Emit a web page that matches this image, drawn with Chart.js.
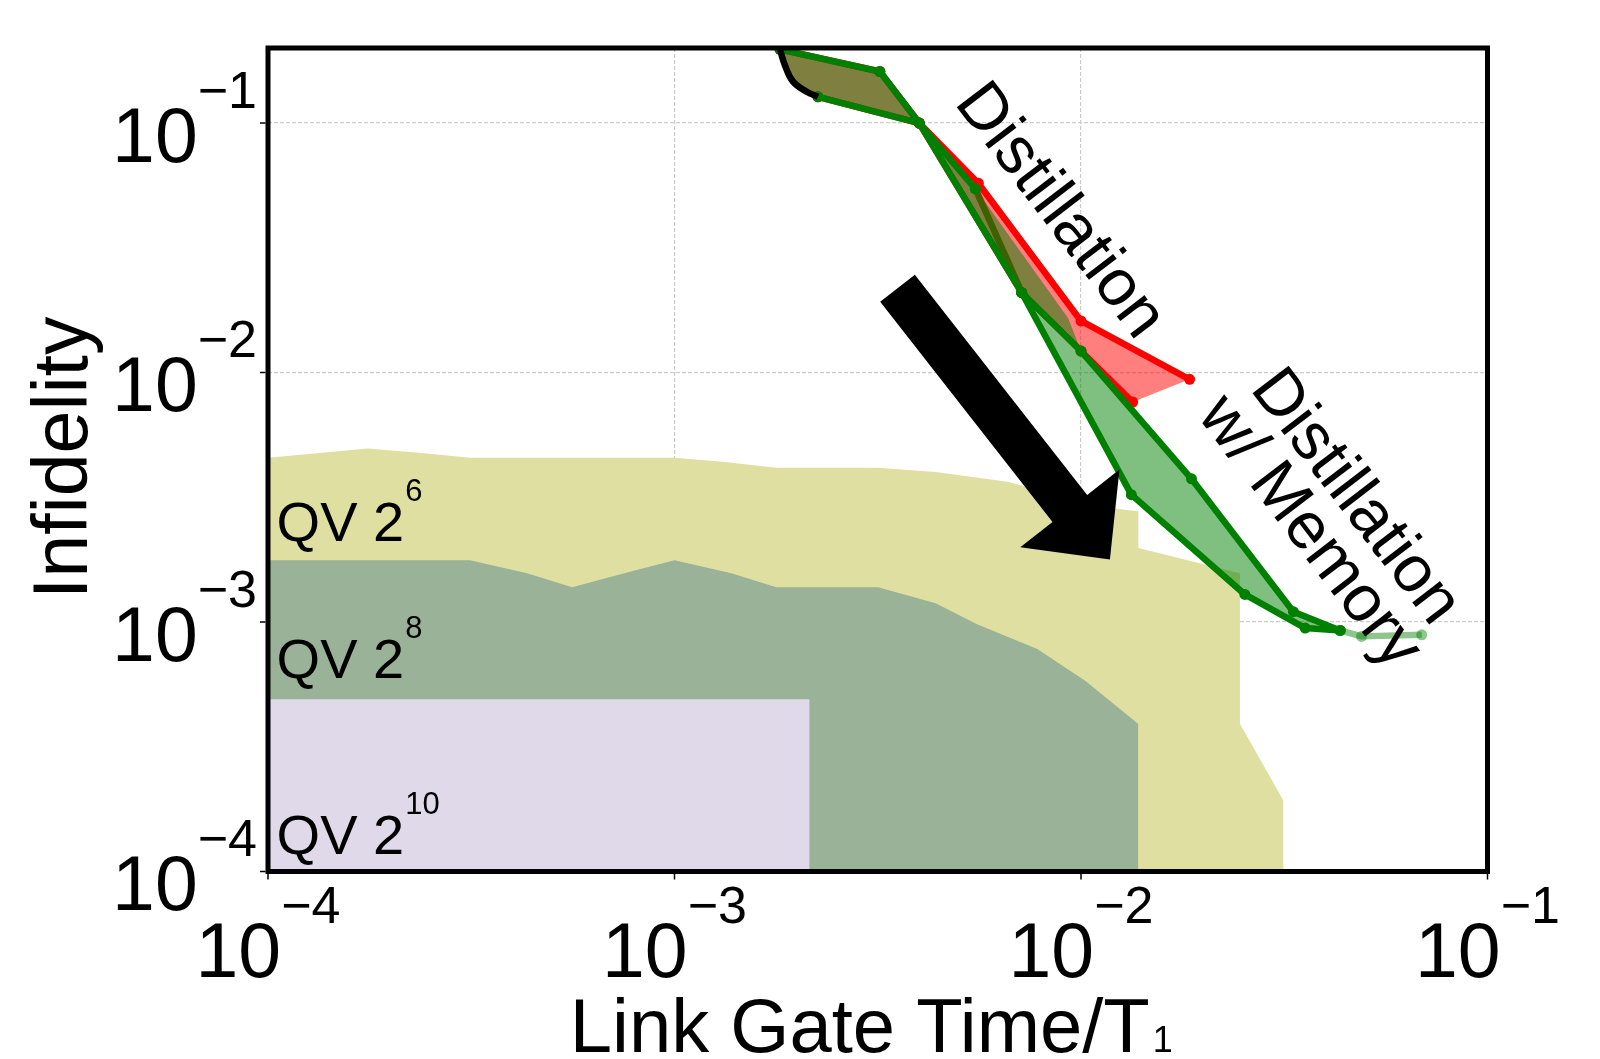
<!DOCTYPE html>
<html>
<head>
<meta charset="utf-8">
<title>Infidelity vs Link Gate Time</title>
<script src="https://cdn.jsdelivr.net/npm/chart.js@4.4.0/dist/chart.umd.min.js"></script>
<style>
  html, body { margin: 0; padding: 0; background: #fff; }
  #wrap { position: relative; width: 1600px; height: 1059px; }
</style>
</head>
<body>
<div id="wrap"><canvas id="qvChart"></canvas></div>
<script>
// axis ranges and decade ticks
const xRange = [1e-4, 1e-1];
const yRange = [1e-4, 0.2];
const xTicks = [1e-4, 1e-3, 1e-2, 1e-1];
const yTicks = [1e-4, 1e-3, 1e-2, 1e-1];
const xTickExp = ['\u22124', '\u22123', '\u22122', '\u22121'];
const yTickExp = ['\u22124', '\u22123', '\u22122', '\u22121'];

// quantum volume regions (upper boundary, filled down to the axis)
const qv6X = [1e-4, 0.000176, 0.000235, 0.000314, 0.001, 0.00133, 0.00178, 0.00317, 0.00439, 0.0066, 0.0111, 0.01384, 0.01384, 0.0246, 0.0246, 0.0315, 0.0315];
const qv6Y = [0.00456, 0.00496, 0.00477, 0.00456, 0.00456, 0.00438, 0.00415, 0.00415, 0.00399, 0.00365, 0.0029, 0.00278, 0.00198, 0.00157, 0.000391, 0.000192, 1e-4];
const qv8X = [1e-4, 0.000314, 0.000434, 0.00056, 0.000789, 0.001, 0.00138, 0.00178, 0.00317, 0.00439, 0.00555, 0.00781, 0.01026, 0.01384, 0.01384];
const qv8Y = [0.00177, 0.00177, 0.00157, 0.00138, 0.0016, 0.00177, 0.00157, 0.00138, 0.00138, 0.00119, 0.00098, 0.00078, 0.00058, 0.00039, 1e-4];
const qv10X = [1e-4, 0.00215, 0.00215];
const qv10Y = [0.00049, 0.00049, 1e-4];
const qvLabelX = 1.05e-4;
const qvLabelY = [0.00212, 0.000597, 0.000117];
const qvLabelExp = ['6', '8', '10'];

// black starting curve (shared by both bands)
const startX = [0.001817, 0.00187, 0.001957, 0.002114, 0.002254];
const startY = [0.1975, 0.1703, 0.1466, 0.1336, 0.1275];

// Distillation (red)
const distUpperX = [0.001817, 0.0032, 0.004, 0.00559, 0.01, 0.0185];
const distUpperY = [0.1975, 0.161, 0.1, 0.0574, 0.0161, 0.0094];
const distLowerX = [0.002254, 0.004, 0.00715, 0.01, 0.0134];
const distLowerY = [0.1275, 0.1, 0.0209, 0.0122, 0.00762];

// Distillation w/ Memory (green)
const memEdgeX = [0.001817, 0.0032, 0.004, 0.0055, 0.0093, 0.01, 0.0187, 0.0333, 0.0434];
const memEdgeY = [0.1975, 0.161, 0.1, 0.0545, 0.0165, 0.0122, 0.00375, 0.0011, 0.000925];
const memUpperX = [0.001817, 0.0032, 0.004, 0.0055];
const memUpperY = [0.1975, 0.161, 0.1, 0.0545];
const memInnerX = [0.0055, 0.00715];
const memInnerY = [0.0545, 0.0209];
const memMidX = [0.00715, 0.01, 0.0187, 0.0333, 0.0434];
const memMidY = [0.0209, 0.0122, 0.00375, 0.0011, 0.000925];
const memLowerX = [0.002254, 0.004, 0.00715, 0.0133, 0.0253, 0.0356, 0.0434];
const memLowerY = [0.1275, 0.1, 0.0209, 0.00324, 0.00129, 0.000946, 0.000925];
const memTailX = [0.0434, 0.049, 0.0689];
const memTailY = [0.000925, 0.000876, 0.000889];

// annotations (data coordinates)
const arrowFrom = [0.003537, 0.02177];
const arrowTo = [0.01178, 0.001779];
const distLabelAt = [0.00815, 0.0400];
const memLabelAt = [0.0435, 0.00285];

const FONT = '"Liberation Sans", Arial, Helvetica, sans-serif';

const pts = (xs, ys) => xs.map((v, i) => ({ x: v, y: ys[i] }));

function polygon(upper, lower, start) {
  return [...upper, ...lower.slice().reverse(), ...start.slice().reverse()];
}

const startPts = pts(startX, startY);
const distUpper = pts(distUpperX, distUpperY);
const distLower = pts(distLowerX, distLowerY);
const memEdge = pts(memEdgeX, memEdgeY);
const memLower = pts(memLowerX, memLowerY);

function band(xs, ys, color) {
  return {
    data: pts(xs, ys), showLine: true, fill: 'start',
    backgroundColor: color, borderColor: 'rgba(0,0,0,0)', borderWidth: 0, pointRadius: 0,
  };
}
function area(points, color) {
  return {
    data: points, showLine: true, fill: 'shape',
    backgroundColor: color, borderColor: 'rgba(0,0,0,0)', borderWidth: 0, pointRadius: 0,
  };
}
function curve(points, color) {
  return {
    data: points, showLine: true, fill: false,
    borderColor: color, borderWidth: 6.5, pointRadius: 5.5,
    pointBackgroundColor: color, pointBorderWidth: 0, borderJoinStyle: 'round',
  };
}

// back to front
const datasets = [
  band(qv6X, qv6Y, '#e0dfa2'),
  band(qv8X, qv8Y, '#9ab298'),
  band(qv10X, qv10Y, '#dfd9ea'),
  curve(pts(memInnerX, memInnerY), '#008000'),
  area(polygon(distUpper, distLower, startPts), 'rgba(255,0,0,0.5)'),
  curve(distUpper, '#ff0000'),
  curve(distLower, '#ff0000'),
  area(polygon(memEdge, memLower, startPts), 'rgba(0,128,0,0.5)'),
  curve(pts(memUpperX, memUpperY), '#008000'),
  curve(pts(memMidX, memMidY), '#008000'),
  curve(memLower, '#008000'),
  curve(pts(memTailX, memTailY), 'rgba(0,128,0,0.45)'),
  Object.assign(curve(startPts, '#000000'), { pointRadius: 0, tension: 0.4 }),
];
datasets.forEach((d, i) => { d.order = datasets.length - i; d.clip = 0; });

function drawPow(ctx, base, exp, x, y, align, baseSize, expSize, rise) {
  ctx.font = `${baseSize}px ${FONT}`;
  const wb = ctx.measureText(base).width;
  ctx.font = `${expSize}px ${FONT}`;
  const we = ctx.measureText(exp).width;
  const total = wb + we;
  let sx = x;
  if (align === 'center') sx = x - total / 2;
  else if (align === 'right') sx = x - total;
  ctx.textAlign = 'left';
  ctx.textBaseline = 'alphabetic';
  ctx.font = `${baseSize}px ${FONT}`;
  ctx.fillText(base, sx, y);
  ctx.font = `${expSize}px ${FONT}`;
  ctx.fillText(exp, sx + wb, y - rise);
}

const decor = {
  id: 'decor',
  afterDraw(chart) {
    const { ctx, chartArea: a, scales } = chart;
    const sx = scales.x, sy = scales.y;
    ctx.save();
    ctx.fillStyle = '#000';

    // QV labels
    qvLabelY.forEach((v, i) => {
      const px = sx.getPixelForValue(qvLabelX);
      const py = sy.getPixelForValue(v);
      ctx.font = `56px ${FONT}`;
      ctx.textAlign = 'left';
      ctx.textBaseline = 'alphabetic';
      const w = ctx.measureText('QV 2').width;
      ctx.fillText('QV 2', px, py);
      ctx.font = `31px ${FONT}`;
      ctx.fillText(qvLabelExp[i], px + w + 1, py - 40);
    });

    // arrow
    const p0x = sx.getPixelForValue(arrowFrom[0]), p0y = sy.getPixelForValue(arrowFrom[1]);
    const p1x = sx.getPixelForValue(arrowTo[0]), p1y = sy.getPixelForValue(arrowTo[1]);
    const len = Math.hypot(p1x - p0x, p1y - p0y);
    const ux = (p1x - p0x) / len, uy = (p1y - p0y) / len;
    const nx = -uy, ny = ux;
    const hw = 22, hh = 63, hl = 65;
    const bx = p1x - ux * hl, by = p1y - uy * hl;
    ctx.beginPath();
    ctx.moveTo(p0x + nx * hw, p0y + ny * hw);
    ctx.lineTo(bx + nx * hw, by + ny * hw);
    ctx.lineTo(bx + nx * hh, by + ny * hh);
    ctx.lineTo(p1x, p1y);
    ctx.lineTo(bx - nx * hh, by - ny * hh);
    ctx.lineTo(bx - nx * hw, by - ny * hw);
    ctx.lineTo(p0x - nx * hw, p0y - ny * hw);
    ctx.closePath();
    ctx.fill();

    // rotated annotations
    const rotText = (lines, at, deg, size, gap) => {
      ctx.save();
      ctx.translate(sx.getPixelForValue(at[0]), sy.getPixelForValue(at[1]));
      ctx.rotate(deg * Math.PI / 180);
      ctx.font = `${size}px ${FONT}`;
      ctx.textAlign = 'center';
      ctx.textBaseline = 'alphabetic';
      lines.forEach((t, i) => ctx.fillText(t, 0, i * gap));
      ctx.restore();
    };
    rotText(['Distillation'], distLabelAt, 52.6, 66, 0);
    rotText(['Distillation', 'w/ Memory'], memLabelAt, 52.6, 66, 58);

    // frame
    ctx.lineWidth = 5;
    ctx.strokeStyle = '#000';
    ctx.strokeRect(a.left, a.top, a.right - a.left, a.bottom - a.top);

    // tick marks
    ctx.lineWidth = 1.5;
    ctx.beginPath();
    xTicks.forEach(v => {
      const px = sx.getPixelForValue(v);
      ctx.moveTo(px, a.bottom + 2.5);
      ctx.lineTo(px, a.bottom + 8);
    });
    yTicks.forEach(v => {
      const py = sy.getPixelForValue(v);
      ctx.moveTo(a.left - 2.5, py);
      ctx.lineTo(a.left - 8, py);
    });
    ctx.stroke();

    // tick labels
    xTicks.forEach((v, i) => {
      drawPow(ctx, '10', xTickExp[i], sx.getPixelForValue(v), a.bottom + 105, 'center', 77, 52, 54);
    });
    yTicks.forEach((v, i) => {
      drawPow(ctx, '10', yTickExp[i], a.left - 11, sy.getPixelForValue(v) + 38.5, 'right', 77, 52, 54);
    });

    // axis titles
    ctx.font = `76px ${FONT}`;
    ctx.textAlign = 'left';
    ctx.textBaseline = 'alphabetic';
    const xt = 'Link Gate Time/T';
    const wt = ctx.measureText(xt).width;
    ctx.font = `36px ${FONT}`;
    const ws = ctx.measureText('1').width;
    const tx = (a.left + a.right) / 2 - (wt + ws) / 2 - 8;
    ctx.font = `76px ${FONT}`;
    ctx.fillText(xt, tx, 1051.5);
    ctx.font = `36px ${FONT}`;
    ctx.fillText('1', tx + wt + 3, 1052);

    ctx.save();
    ctx.translate(87, (a.top + a.bottom) / 2 - 2);
    ctx.rotate(-Math.PI / 2);
    ctx.font = `77px ${FONT}`;
    ctx.textAlign = 'center';
    ctx.fillText('Infidelity', 0, 0);
    ctx.restore();

    ctx.restore();
  }
};

new Chart(document.getElementById('qvChart'), {
  type: 'scatter',
  data: { datasets },
  options: {
    responsive: true,
    maintainAspectRatio: false,
    animation: false,
    layout: { padding: { left: 268, right: 112.5, top: 48, bottom: 187.5 } },
    plugins: { legend: { display: false }, tooltip: { enabled: false } },
    scales: {
      x: {
        type: 'logarithmic', min: xRange[0], max: xRange[1],
        afterBuildTicks: s => { s.ticks = xTicks.map(v => ({ value: v })); },
        ticks: { display: false },
        border: { display: false, dash: [4, 2] },
        grid: { color: '#cccccc', lineWidth: 1.2, drawTicks: false },
      },
      y: {
        type: 'logarithmic', min: yRange[0], max: yRange[1],
        afterBuildTicks: s => { s.ticks = yTicks.map(v => ({ value: v })); },
        ticks: { display: false },
        border: { display: false, dash: [4, 2] },
        grid: { color: '#cccccc', lineWidth: 1.2, drawTicks: false },
      },
    },
  },
  plugins: [decor],
});
</script>
</body>
</html>
